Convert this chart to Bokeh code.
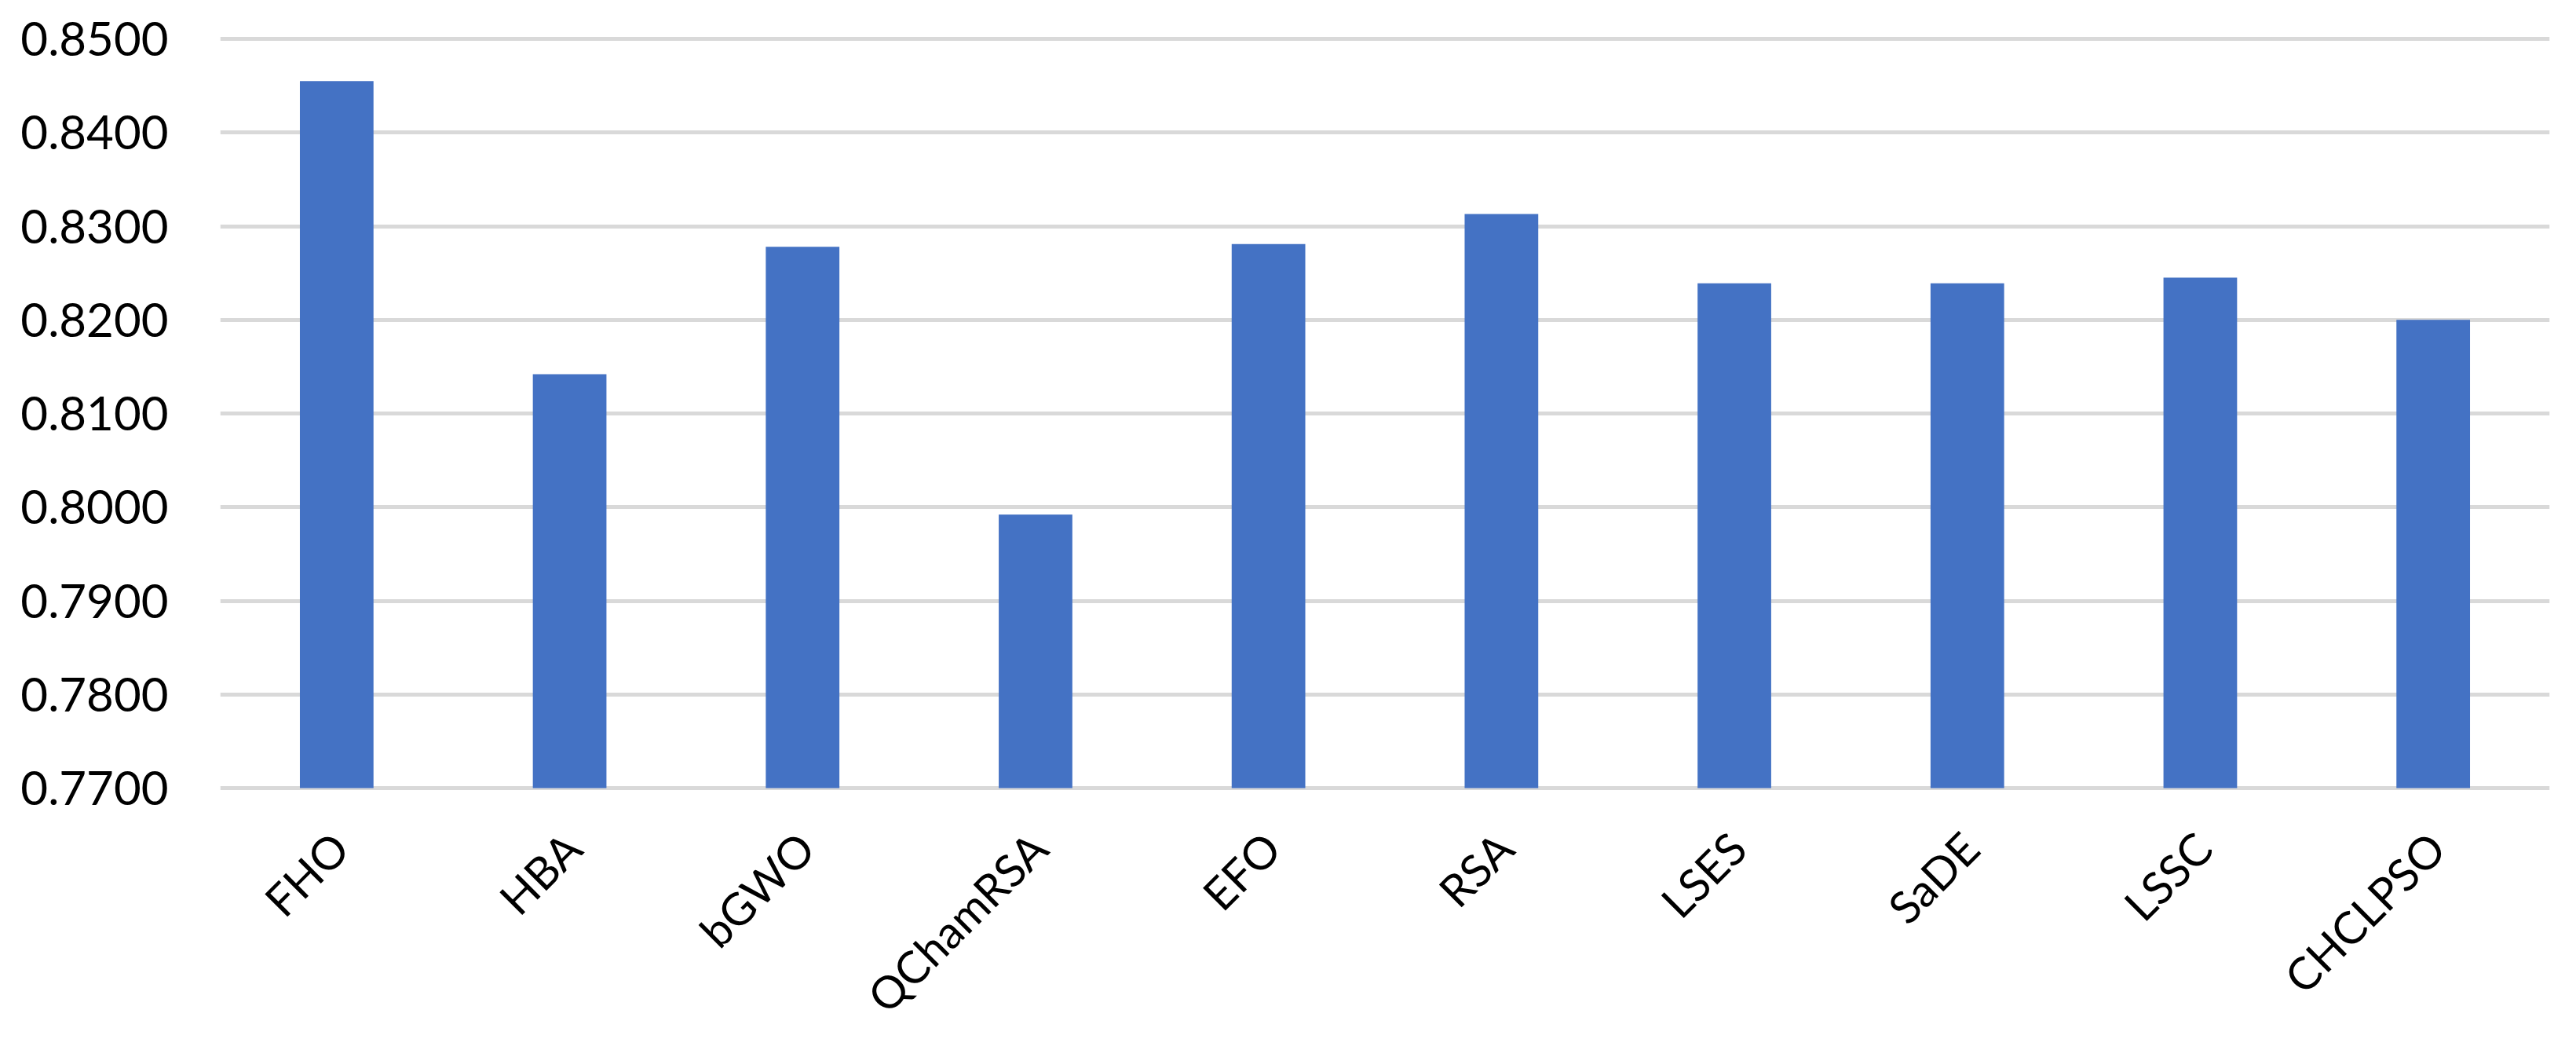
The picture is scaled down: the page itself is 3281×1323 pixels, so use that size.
import math
from bokeh.plotting import figure
from bokeh.models import ColumnDataSource, FixedTicker, NumeralTickFormatter, Range1d
from bokeh.core.properties import value
from bokeh.embed import file_html
from bokeh.resources import INLINE

categories = ["FHO", "HBA", "bGWO", "QChamRSA", "EFO", "RSA", "LSES", "SaDE", "LSSC", "CHCLPSO"]
values = [0.8455, 0.8142, 0.8278, 0.7992, 0.8281, 0.8313, 0.8239, 0.8239, 0.8245, 0.8200]
y_ticks = [0.77, 0.78, 0.79, 0.80, 0.81, 0.82, 0.83, 0.84, 0.85]

FONT = "Lato"
FS = "60px"
XFS = "57px"
W, H = 3265, 1307

# layout (pixels)
TOP_PX = 49          # where the top tick sits
BASE_PX = 1003       # where the bottom tick (baseline) sits
PAD_PX = 3           # so the edge gridline is fully drawn
LABEL_DROP_PX = 42   # x labels: distance below the baseline
LABEL_SHIFT_PX = -20 # x labels: horizontal shift from category centre

y0, y1 = y_ticks[0], y_ticks[-1]
ppu = (BASE_PX - TOP_PX) / (y1 - y0)          # pixels per data unit
frame_top = TOP_PX - PAD_PX
y_top = y1 + PAD_PX / ppu
y_bottom = y_top - (H - frame_top) / ppu      # frame extends to the bottom of the canvas
label_y = y0 - LABEL_DROP_PX / ppu

src = ColumnDataSource(dict(cat=categories, val=values,
                            ly=[label_y] * len(categories)))

p = figure(x_range=categories, y_range=Range1d(y_bottom, y_top),
           width=W, height=H, output_backend="svg", toolbar_location=None)
p.min_border_left = 280
p.min_border_right = 18
p.min_border_top = frame_top
p.min_border_bottom = 0
p.outline_line_color = None

p.vbar(x="cat", top="val", bottom=y0, width=0.316, source=src,
       fill_color="#4472C4", line_color=None)

p.text(x="cat", y="ly", text="cat", source=src, angle=math.pi / 4,
       x_offset=LABEL_SHIFT_PX, text_align="right", text_baseline="top",
       text_font=value(FONT), text_font_size=value(XFS), text_color="#000000")

p.xaxis.visible = False
p.xgrid.grid_line_color = None
p.ygrid.grid_line_color = "#D9D9D9"
p.ygrid.grid_line_width = 5
p.yaxis.ticker = FixedTicker(ticks=y_ticks)
p.yaxis.formatter = NumeralTickFormatter(format="0.0000")

ax = p.yaxis[0]
ax.major_tick_line_color = None
ax.minor_tick_line_color = None
ax.axis_line_color = None
ax.major_label_text_font = FONT
ax.major_label_text_font_size = FS
ax.major_label_text_color = "#000000"
ax.major_label_standoff = 60

open("out.html", "w").write(file_html(p, INLINE))
